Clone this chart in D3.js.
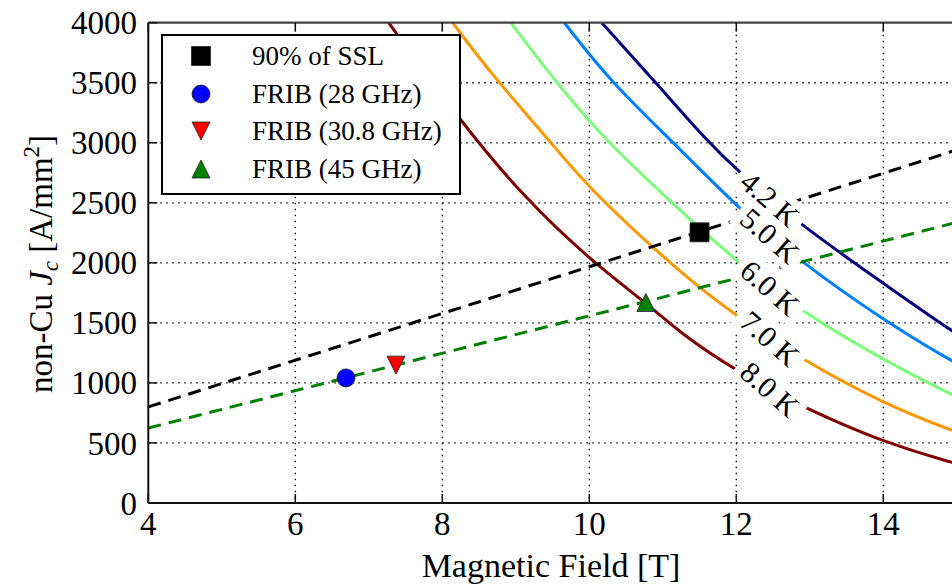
<!DOCTYPE html>
<html>
<head>
<meta charset="utf-8">
<script src="https://cdn.jsdelivr.net/npm/d3@7"></script>
<style>
  body { margin: 0; background: #fff; }
  svg { display: block; }
  text { font-family: "Liberation Serif", "DejaVu Serif", serif; fill: #000; }
</style>
</head>
<body>
<svg id="chart" width="952" height="587"></svg>
<script>
// Critical current density of the conductor vs. field, one curve per temperature [T, A/mm^2]
const curveTemps = ["4.2 K", "5.0 K", "6.0 K", "7.0 K", "8.0 K"];
const jc42K = [[10.17, 4000], [10.92, 3490], [11.61, 3010], [12.03, 2760], [12.86, 2320], [14.0, 1830], [14.93, 1430], [15.3, 1300]];
const jc50K = [[9.66, 4000], [10.3, 3500], [11.15, 3000], [12.0, 2470], [12.9, 1994], [14.0, 1525], [14.93, 1180], [15.3, 1070]];
const jc60K = [[8.93, 4000], [9.55, 3500], [10.25, 3000], [11.02, 2560], [12.0, 2010], [12.89, 1592], [14.0, 1190], [14.93, 900], [15.3, 800]];
const jc70K = [[8.14, 4000], [8.68, 3560], [9.5, 2990], [9.99, 2620], [11.23, 1920], [11.98, 1565], [12.91, 1188], [14.0, 830], [14.94, 600], [15.3, 530]];
const jc80K = [[7.27, 4000], [8.27, 3159], [9.12, 2540], [10.0, 2030], [10.77, 1668], [11.23, 1420], [11.96, 1112], [12.95, 788], [13.32, 690], [14.0, 510], [14.94, 333], [15.3, 285]];
const curveColors = ["#000080", "#0080ff", "#7bff7b", "#ff9700", "#800000"];

// Magnet load lines (straight, drawn between their end points)
const loadLineSSL = [[4, 800], [15.3, 2999]];
const loadLineFRIB = [[4, 624], [15.3, 2384]];

// Operating points
const pointSSL = [{ B: 11.5, J: 2254 }];
const pointFRIB28 = [{ B: 6.69, J: 1042 }];
const pointFRIB308 = [{ B: 7.37, J: 1148 }];
const pointFRIB45 = [{ B: 10.77, J: 1670 }];

const legendLabels = ["90% of SSL", "FRIB (28 GHz)", "FRIB (30.8 GHz)", "FRIB (45 GHz)"];
const xTickValues = [4, 6, 8, 10, 12, 14];
const yTickValues = [0, 500, 1000, 1500, 2000, 2500, 3000, 3500, 4000];
const labelField = 12.46;   // field at which each temperature label sits

const svg = d3.select("#chart");
const plot = { left: 148.3, top: 22.7, bottom: 503, right: 1030.3 };

const x = d3.scaleLinear().domain([4, 16]).range([plot.left, plot.right]);
const y = d3.scaleLinear().domain([0, 4000]).range([plot.bottom, plot.top]);

svg.append("defs").append("clipPath").attr("id", "plotClip")
  .append("rect").attr("x", plot.left).attr("y", plot.top)
  .attr("width", plot.right - plot.left).attr("height", plot.bottom - plot.top);

// Grid
const grid = svg.append("g").attr("stroke", "#000").attr("stroke-width", 1.3)
  .attr("stroke-dasharray", "1.5,4.5");
xTickValues.slice(1).forEach(v => grid.append("line")
  .attr("x1", x(v)).attr("x2", x(v)).attr("y1", plot.top).attr("y2", plot.bottom));
yTickValues.slice(1, -1).forEach(v => grid.append("line")
  .attr("x1", plot.left).attr("x2", plot.right).attr("y1", y(v)).attr("y2", y(v)));

const body = svg.append("g").attr("clip-path", "url(#plotClip)");

// Temperature curves (B-spline through the read-off points smooths them out)
const curveLine = d3.line().x(d => x(d[0])).y(d => y(d[1])).curve(d3.curveBasis);
const curves = [jc42K, jc50K, jc60K, jc70K, jc80K];
curves.forEach((c, i) => body.append("path").attr("d", curveLine(c))
  .attr("fill", "none").attr("stroke", curveColors[i]).attr("stroke-width", 3));

// Load lines
const straight = d3.line().x(d => x(d[0])).y(d => y(d[1]));
body.append("path").attr("d", straight(loadLineSSL)).attr("fill", "none")
  .attr("stroke", "#000").attr("stroke-width", 3).attr("stroke-dasharray", "13,8");
body.append("path").attr("d", straight(loadLineFRIB)).attr("fill", "none")
  .attr("stroke", "#008000").attr("stroke-width", 3).attr("stroke-dasharray", "13,8");

// Marker shapes
function markerPath(kind, s) {
  const h = s / 2;
  if (kind === "square") return `M${-h},${-h}H${h}V${h}H${-h}Z`;
  if (kind === "circle") return d3.symbol(d3.symbolCircle, Math.PI * h * h)();
  if (kind === "down") return `M${-h},${-h}L${h},${-h}L0,${h}Z`;
  return `M0,${-h}L${h},${h}L${-h},${h}Z`;
}
const markerDefs = [
  { data: pointSSL, kind: "square", size: 19, fill: "#000" },
  { data: pointFRIB28, kind: "circle", size: 18, fill: "#0000ff" },
  { data: pointFRIB308, kind: "down", size: 18, fill: "#ff0000" },
  { data: pointFRIB45, kind: "up", size: 18, fill: "#008000" }
];
markerDefs.forEach(m => m.data.forEach(p => body.append("path")
  .attr("d", markerPath(m.kind, m.size))
  .attr("transform", `translate(${x(p.B)},${y(p.J)})`)
  .attr("fill", m.fill).attr("stroke", "#222").attr("stroke-width", 0.8)));

// Inline temperature labels on a white ground
const labels = svg.append("g");
curves.forEach((c, i) => {
  const interp = d3.scaleLinear().domain(c.map(d => d[0])).range(c.map(d => d[1]));
  const px = x(labelField), py = y(interp(labelField));
  const g = labels.append("g").attr("transform", `translate(${px},${py}) rotate(41)`);
  g.append("rect").attr("x", -40).attr("y", -17).attr("width", 80).attr("height", 34).attr("fill", "#fff");
  g.append("text").attr("text-anchor", "middle").attr("dy", "0.35em")
    .attr("font-size", 30).text(curveTemps[i]);
});

// Spines and inward ticks
const axes = svg.append("g").attr("stroke", "#111");
axes.append("line").attr("x1", plot.left).attr("x2", plot.left).attr("y1", plot.top).attr("y2", plot.bottom).attr("stroke-width", 2);
axes.append("line").attr("x1", plot.left).attr("x2", plot.right).attr("y1", plot.bottom).attr("y2", plot.bottom).attr("stroke-width", 2);
axes.append("line").attr("x1", plot.left).attr("x2", plot.right).attr("y1", plot.top).attr("y2", plot.top).attr("stroke-width", 2.2).attr("stroke", "#444");
xTickValues.forEach(v => {
  axes.append("line").attr("x1", x(v)).attr("x2", x(v)).attr("y1", plot.bottom).attr("y2", plot.bottom - 9).attr("stroke-width", 1.5);
  axes.append("line").attr("x1", x(v)).attr("x2", x(v)).attr("y1", plot.top).attr("y2", plot.top + 9).attr("stroke-width", 1.5);
});
yTickValues.forEach(v => {
  axes.append("line").attr("x1", plot.left).attr("x2", plot.left + 9).attr("y1", y(v)).attr("y2", y(v)).attr("stroke-width", 1.5);
});

// Tick labels
svg.append("g").selectAll("text").data(xTickValues).join("text")
  .attr("x", d => x(d)).attr("y", 535).attr("text-anchor", "middle")
  .attr("font-size", 33).text(d => d);
svg.append("g").selectAll("text").data(yTickValues).join("text")
  .attr("x", 137).attr("y", d => y(d)).attr("dy", "0.35em").attr("text-anchor", "end")
  .attr("font-size", 33).text(d => d);

// Axis titles
svg.append("text").attr("x", 551).attr("y", 577).attr("text-anchor", "middle")
  .attr("font-size", 34).text("Magnetic Field [T]");
const yTitle = svg.append("text").attr("transform", "translate(52,264) rotate(-90)")
  .attr("text-anchor", "middle").attr("font-size", 33);
yTitle.append("tspan").text("non-Cu ");
yTitle.append("tspan").attr("font-style", "italic").text("J");
yTitle.append("tspan").attr("font-style", "italic").attr("font-size", 23).attr("dy", 6).text("c");
yTitle.append("tspan").attr("dy", -6).text(" [A/mm");
yTitle.append("tspan").attr("font-size", 23).attr("dy", -13).text("2");
yTitle.append("tspan").attr("dy", 13).text("]");

// Legend
const legend = svg.append("g");
legend.append("rect").attr("x", 162).attr("y", 35).attr("width", 298).attr("height", 159)
  .attr("fill", "#fff").attr("stroke", "#000").attr("stroke-width", 2);
const legendRows = [56, 94, 131, 169];
markerDefs.forEach((m, i) => {
  legend.append("path").attr("d", markerPath(m.kind, m.size))
    .attr("transform", `translate(201,${legendRows[i]})`)
    .attr("fill", m.fill).attr("stroke", "#222").attr("stroke-width", 0.8);
  legend.append("text").attr("x", 252).attr("y", legendRows[i]).attr("dy", "0.35em")
    .attr("font-size", 27).text(legendLabels[i]);
});
</script>
</body>
</html>
